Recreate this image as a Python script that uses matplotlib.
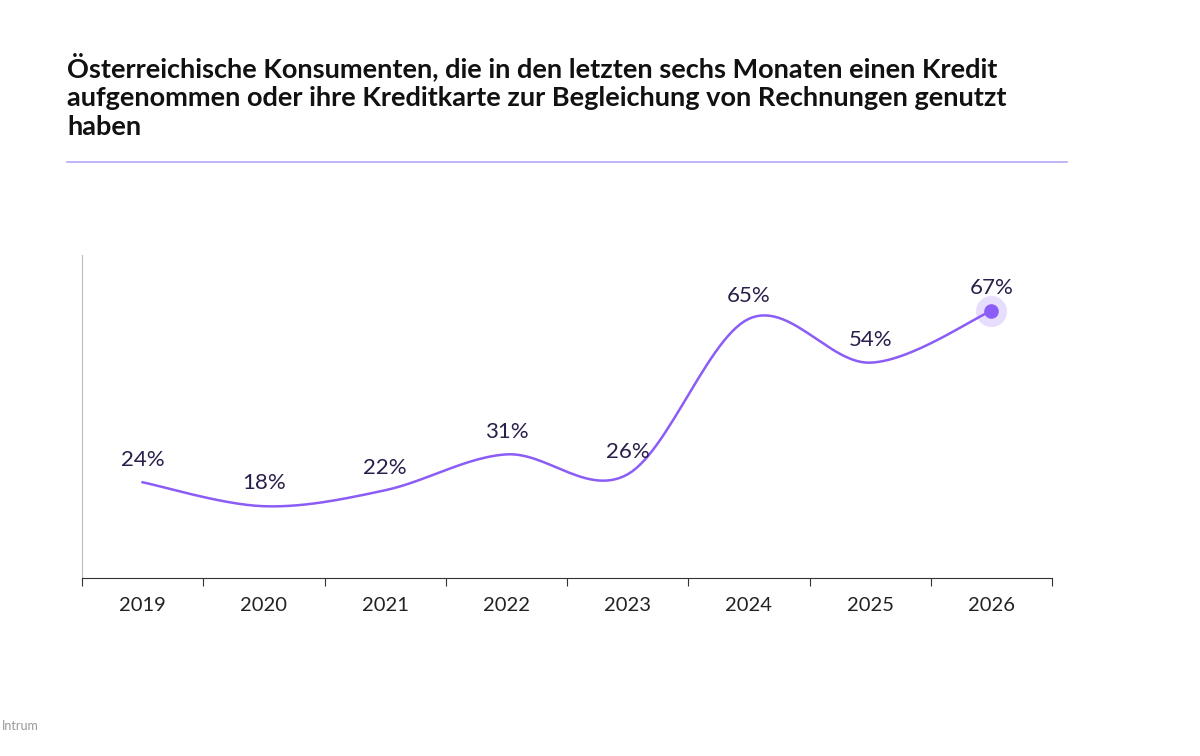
import matplotlib.pyplot as plt
import numpy as np

years = ["2019", "2020", "2021", "2022", "2023", "2024", "2025", "2026"]
values = [24, 18, 22, 31, 26, 65, 54, 67]

LINE = "#8B5CF6"
TEXT = "#2A1E4A"

plt.rcParams["font.family"] = ["Lato", "DejaVu Sans"]

fig = plt.figure(figsize=(12, 7.56), dpi=100)
ax = fig.add_axes([82 / 1200, 1 - 578 / 756, 970 / 1200, 323 / 756])

x = np.arange(len(values))
y = np.array(values, dtype=float)

# Catmull-Rom Glättung nur für die Linienform
xs, ys = [], []
pts = np.column_stack([x, y])
pad = np.vstack([pts[0], pts, pts[-1]])
for i in range(1, len(pad) - 2):
    p0, p1, p2, p3 = pad[i - 1], pad[i], pad[i + 1], pad[i + 2]
    for t in np.linspace(0, 1, 30):
        c = 0.5 * ((2 * p1) + (-p0 + p2) * t + (2 * p0 - 5 * p1 + 4 * p2 - p3) * t ** 2
                   + (-p0 + 3 * p1 - 3 * p2 + p3) * t ** 3)
        xs.append(c[0]); ys.append(c[1])
ax.plot(xs, ys, color=LINE, lw=1.8)

ax.scatter([x[-1]], [y[-1]], s=500, color=LINE, alpha=0.2, zorder=3, lw=0)
ax.scatter([x[-1]], [y[-1]], s=110, color=LINE, zorder=4, lw=0)

for xi, yi in zip(x, y):
    ax.text(xi, yi + 3.2, f"{int(yi)}%", ha="center", va="bottom", fontsize=16, color=TEXT)

ax.set_xlim(-0.5, len(values) - 0.5)
ax.set_ylim(0, 81)
ax.set_xticks(np.arange(-0.5, len(values)), minor=False)
ax.set_xticklabels([])
ax.set_xticks(x, minor=True)
ax.set_xticklabels(years, minor=True, fontsize=14.5, color="#222222")
ax.tick_params(axis="x", which="major", length=6, color="#333333", direction="out")
ax.tick_params(axis="x", which="minor", length=0, pad=14)
ax.set_yticks([])
for s in ["top", "right"]:
    ax.spines[s].set_visible(False)
ax.spines["left"].set_color("#BBBBBB")
ax.spines["bottom"].set_color("#333333")

fig.text(67 / 1200, 1 - 52 / 756,
         "Österreichische Konsumenten, die in den letzten sechs Monaten einen Kredit\n"
         "aufgenommen oder ihre Kreditkarte zur Begleichung von Rechnungen genutzt\nhaben",
         ha="left", va="top", fontsize=19.5, fontweight="bold", color="#111111", linespacing=1.25)
fig.add_artist(plt.Line2D([67 / 1200, 1067 / 1200], [1 - 162 / 756] * 2, color="#B9A8F5", lw=1.2))
fig.text(2 / 1200, 1 - 726 / 756, "Intrum", fontsize=9, color="#999999", ha="left", va="center")

fig.savefig("out.png", dpi=100)
